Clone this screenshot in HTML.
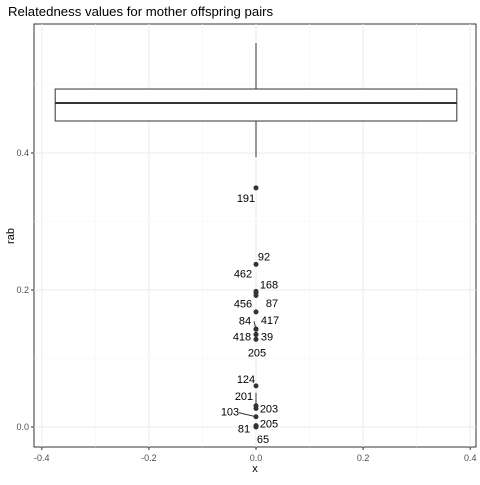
<!DOCTYPE html>
<html><head><meta charset="utf-8"><style>
body{margin:0;background:#fff}
svg text{font-family:"Liberation Sans",sans-serif}
</style></head><body>
<svg id="c" width="480" height="480" xmlns="http://www.w3.org/2000/svg">
<text x="8" y="16" font-size="13.2" fill="#000">Relatedness values for mother offspring pairs</text>
<rect x="34" y="24" width="442" height="423" fill="#fff" stroke="#333" stroke-width="1"/>
<g id="grid"></g><g id="marks"></g><g id="axes"></g>
<text x="255" y="472" font-size="11" text-anchor="middle">x</text>
<text transform="translate(14,236) rotate(-90)" font-size="11" text-anchor="middle">rab</text>
</svg>
<script>
const xTicks=[-0.4,-0.2,0,0.2,0.4];
const xTickLabels=["-0.4","-0.2","0.0","0.2","0.4"];
const yTicks=[0,0.2,0.4];
const yTickLabels=["0.0","0.2","0.4"];
const boxStats=[0.394,0.4467,0.473,0.4934,0.5606]; // lower whisker, q1, median, q3, upper whisker
const boxWidth=[-0.375,0.375];
const pointLabels=["191","92","462","168","456","87","84","417","418","39","205","124","201","203","103","205","81","65"];
const pointValues=[0.349,0.2375,0.196,0.198,0.192,0.168,0.1426,0.143,0.135,0.135,0.128,0.06,0.031,0.027,0.015,0.002,0.001,0.0];
const labelDx=[-10,8,-13,13,-13,16,-11,14,-14,11,1,-10,-12,13,-26,13,-12,7];
const labelDy=[10,-8,-19,-7,8,-9,-9,-9,2,2,13,-7,-10,0,-5,-2,2,12];
const lineFlag=[0,0,0,0,0,0,1,0,0,0,0,0,2,0,1,0,0,0];
const X=v=>256+v*535.5, Y=v=>427-v*685;
const NS="http://www.w3.org/2000/svg";
function mk(p,t,a){const e=document.createElementNS(NS,t);for(const k in a)e.setAttribute(k,a[k]);p.appendChild(e);return e;}
const g=document.getElementById('grid'),m=document.getElementById('marks'),ax=document.getElementById('axes');
xTicks.forEach((v,i)=>{
 const l=mk(g,'line',{x1:X(v),x2:X(v),y1:24,y2:447,stroke:'#ebebeb','stroke-width':1});
 
 
 if(i<xTicks.length-1){const mm=mk(g,'line',{x1:X(v+0.1),x2:X(v+0.1),y1:24,y2:447,stroke:'#f5f5f5','stroke-width':0.6});
 
 }
 const t=mk(ax,'line',{x1:X(v),x2:X(v),y1:447,y2:450,stroke:'#333'});
 
 
 const tx=mk(ax,'text',{x:X(v),y:461,'font-size':9,'text-anchor':'middle',fill:'#4d4d4d'});tx.textContent=xTickLabels[i];
 
 
});
yTicks.forEach((v,i)=>{
 const l=mk(g,'line',{x1:34,x2:476,y1:Y(v),y2:Y(v),stroke:'#ebebeb','stroke-width':1});
 
 
 const mm=mk(g,'line',{x1:34,x2:476,y1:Y(v+0.1),y2:Y(v+0.1),stroke:'#f5f5f5','stroke-width':0.6});
 
 
 const t=mk(ax,'line',{x1:31,x2:34,y1:Y(v),y2:Y(v),stroke:'#333'});
 
 
 const tx=mk(ax,'text',{x:29,y:Y(v)+3,'font-size':9,'text-anchor':'end',fill:'#4d4d4d'});tx.textContent=yTickLabels[i];
 
 
});
const w1=mk(m,'line',{x1:X(0),x2:X(0),y1:Y(boxStats[3]),y2:Y(boxStats[4]),stroke:'#333'});


const w2=mk(m,'line',{x1:X(0),x2:X(0),y1:Y(boxStats[0]),y2:Y(boxStats[1]),stroke:'#333'});


const bx=mk(m,'rect',{x:X(boxWidth[0]),y:Y(boxStats[3]),width:X(boxWidth[1])-X(boxWidth[0]),height:Y(boxStats[1])-Y(boxStats[3]),fill:'#fff',stroke:'#333'});


const md=mk(m,'line',{x1:X(boxWidth[0]),x2:X(boxWidth[1]),y1:Y(boxStats[2]),y2:Y(boxStats[2]),stroke:'#333','stroke-width':2});


pointValues.forEach((v,i)=>{
 const px=X(0),py=Y(v),lx=px+labelDx[i],ly=py+labelDy[i];
 if(lineFlag[i]===1){const s=mk(m,'line',{x1:lx+(labelDx[i]<0?9:-9),y1:ly+1,x2:px,y2:py,stroke:'#333'});
 
 }
 if(lineFlag[i]===2){const s=mk(m,'line',{x1:px,y1:ly-3,x2:px,y2:py,stroke:'#333'});
 
 }
 const c=mk(m,'circle',{cx:px,cy:py,r:2.5,fill:'#333'});
 
 
 const t=mk(m,'text',{x:lx,y:ly+4,'font-size':11,'text-anchor':'middle',fill:'#000'});t.textContent=pointLabels[i];
 
 
});
</script>
</body></html>
